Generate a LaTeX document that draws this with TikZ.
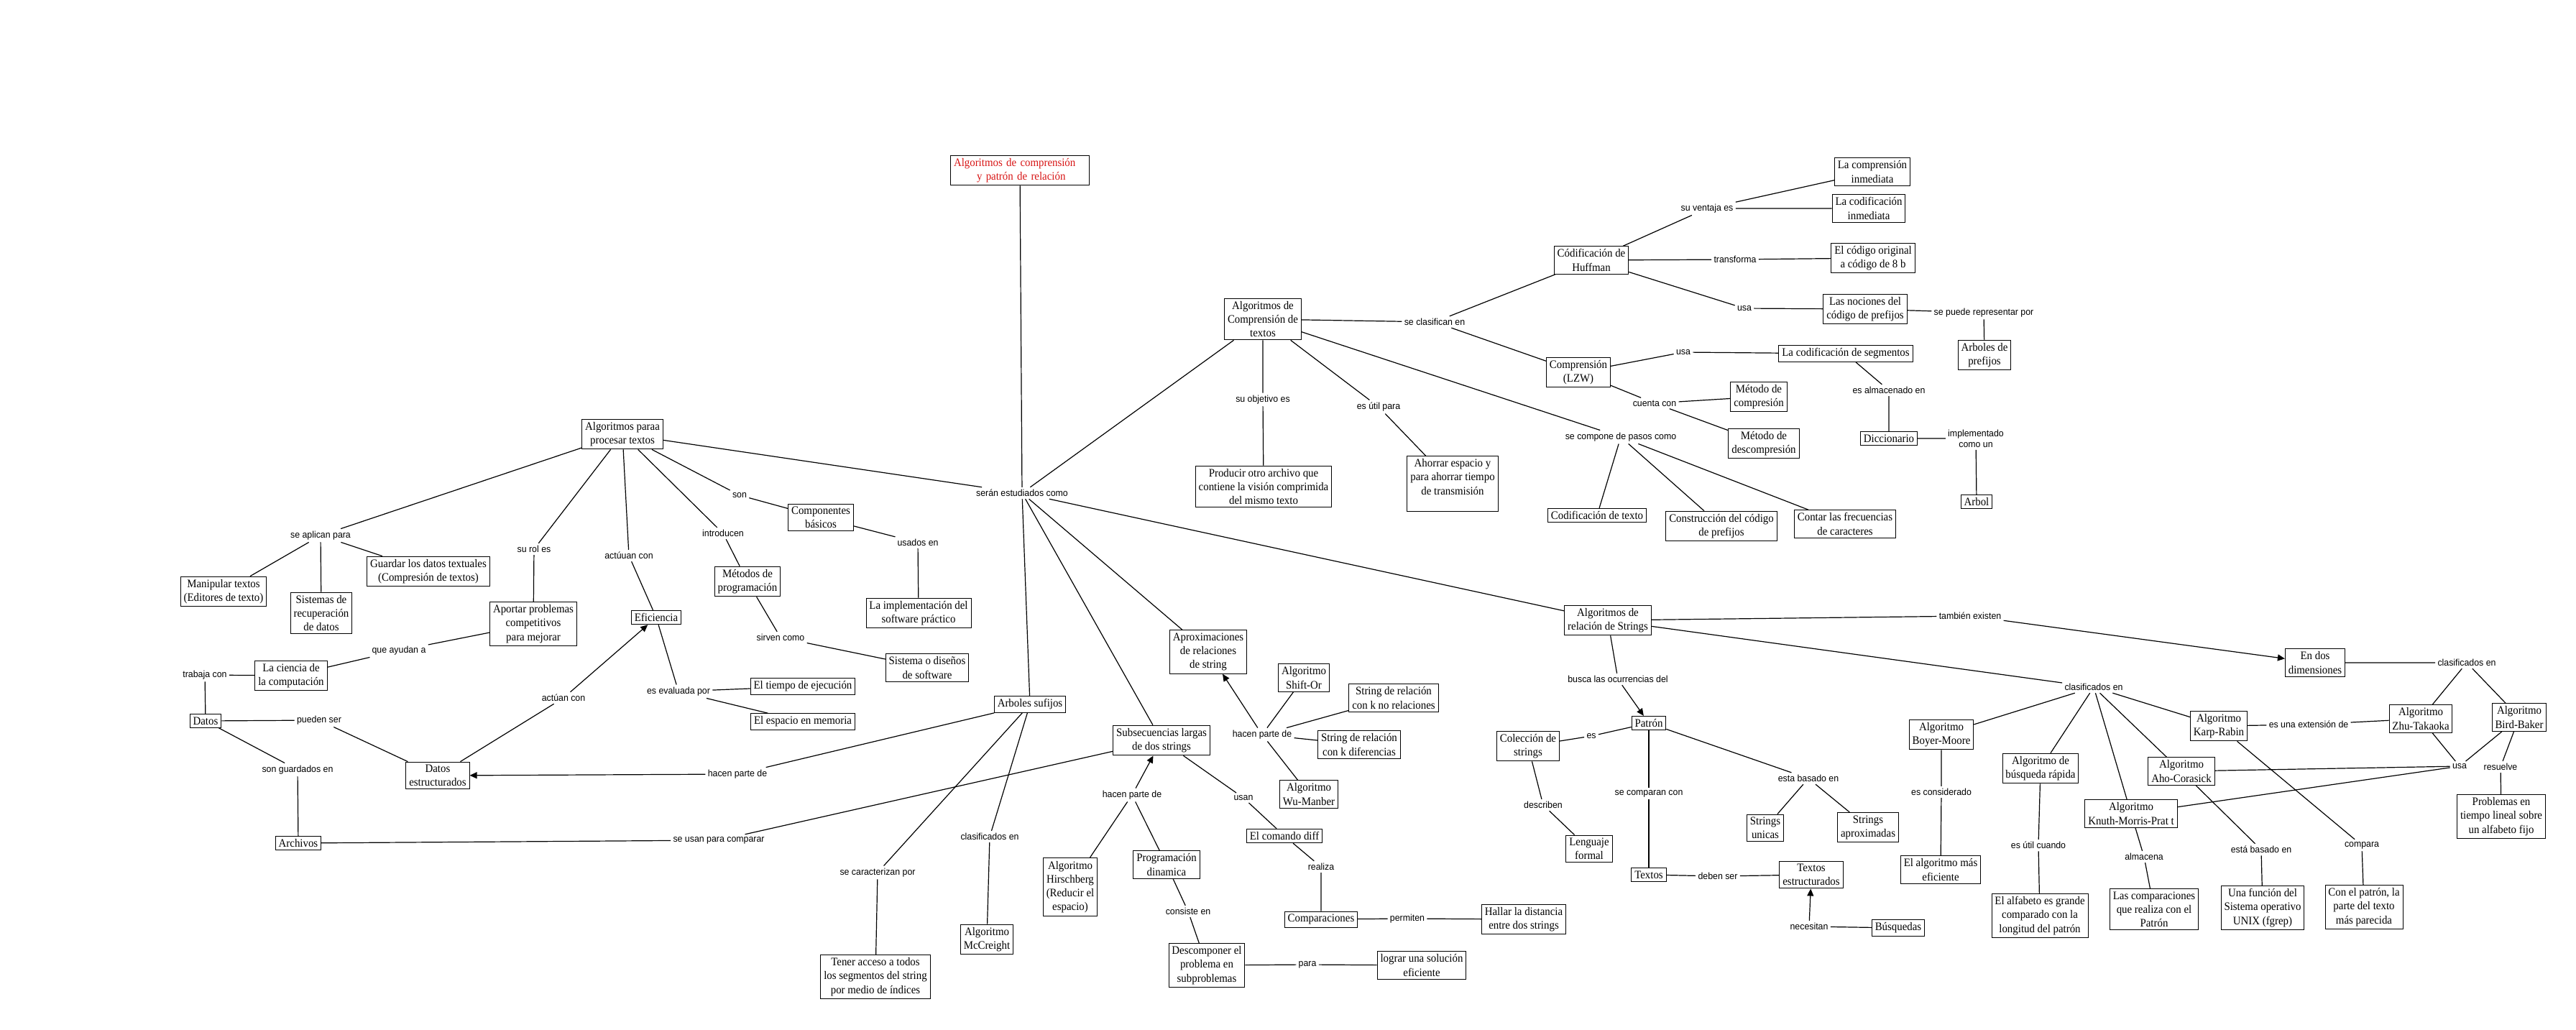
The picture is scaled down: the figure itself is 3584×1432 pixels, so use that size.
\documentclass[tikz,border=0pt]{standalone}
\usepackage{fontspec}
\setmainfont{Liberation Serif}[FakeStretch=0.93]
\newfontfamily\linkfont{Liberation Sans}[FakeStretch=0.95]
\usetikzlibrary{arrows.meta}
\definecolor{rootred}{RGB}{215,20,20}

\begin{document}
\begin{tikzpicture}[x=0.5pt,y=-0.5pt,
  concept/.style={draw,line width=0.5pt,align=center,inner xsep=2.2pt,inner ysep=2pt,font=\fontsize{8}{9.6}\selectfont},
  link/.style={inner sep=1.5pt,align=center,font=\linkfont\fontsize{6.5}{7.6}\selectfont},
  conn/.style={line width=0.6pt},
  arr/.style={conn,-{Triangle[length=5pt,width=4.5pt]}}]
  \useasboundingbox (0,0) rectangle (3584,1432);

  % concepts
  \node[concept,align=left,text width=92pt,text=rootred] (root) at (1419,237) {Algoritmos de comprensión\\\hspace*{16pt}y patrón de relación};
  \node[concept] (proc) at (866,604) {Algoritmos paraa\\procesar textos};
  \node[concept] (manip) at (311,823) {Manipular textos\\(Editores de texto)};
  \node[concept] (sist) at (447,853) {Sistemas de\\recuperación\\de datos};
  \node[concept] (guard) at (596,795) {Guardar los datos textuales\\(Compresión de textos)};
  \node[concept] (aport) at (742,868) {Aportar problemas\\competitivos\\para mejorar};
  \node[concept] (efic) at (913,859) {Eficiencia};
  \node[concept] (metod) at (1040,809) {Métodos de\\programación};
  \node[concept] (compb) at (1142,720) {Componentes\\básicos};
  \node[concept] (impl) at (1278,853) {La implementación del\\software práctico};
  \node[concept] (diseno) at (1290,929) {Sistema o diseños\\de software};
  \node[concept] (tiempo) at (1117,955) {El tiempo de ejecución};
  \node[concept] (espacio) at (1117,1004) {El espacio en memoria};
  \node[concept] (ciencia) at (405,940) {La ciencia de\\la computación};
  \node[concept] (datos) at (286,1003) {Datos};
  \node[concept] (destr) at (609,1079) {Datos\\estructurados};
  \node[concept] (arch) at (415,1173) {Archivos};
  \node[concept] (comp) at (1757,444) {Algoritmos de\\Comprensión de\\textos};
  \node[concept] (prod) at (1758,677) {Producir otro archivo que\\contiene la visión comprimida\\del mismo texto};
  \node[concept] (ahorro) at (2021,673) {Ahorrar espacio y\\para ahorrar tiempo\\de transmisión\\~};
  \node[concept] (aprox) at (1681,907) {Aproximaciones\\de relaciones\\de string};
  \node[concept] (shift) at (1814,943) {Algoritmo\\Shift-Or};
  \node[concept] (knorel) at (1939,971) {String de relación\\con k no relaciones};
  \node[concept] (kdif) at (1891,1036) {String de relación\\con k diferencias};
  \node[concept] (wu) at (1821,1105) {Algoritmo\\Wu-Manber};
  \node[concept] (asuf) at (1433,980) {Arboles sufijos};
  \node[concept] (subsec) at (1616,1030) {Subsecuencias largas\\de dos strings};
  \node[concept] (diff) at (1787,1163) {El comando diff};
  \node[concept] (hirsch) at (1489,1234) {Algoritmo\\Hirschberg\\(Reducir el\\espacio)};
  \node[concept] (progdin) at (1623,1203) {Programación\\dinamica};
  \node[concept] (compar) at (1838,1279) {Comparaciones};
  \node[concept] (mccr) at (1373,1307) {Algoritmo\\McCreight};
  \node[concept] (acceso) at (1218,1359) {Tener acceso a todos\\los segmentos del string\\por medio de índices};
  \node[concept] (descomp) at (1679,1343) {Descomponer el\\problema en\\subproblemas};
  \node[concept] (lograr) at (1978,1343) {lograr una solución\\eficiente};
  \node[concept] (hallar) at (2120,1279) {Hallar la distancia\\entre dos strings};
  \node[concept] (huff) at (2214,362) {Códificación de\\Huffman};
  \node[concept] (cinm) at (2605,239) {La comprensión\\inmediata};
  \node[concept] (codinm) at (2600,290) {La codificación\\inmediata};
  \node[concept] (orig) at (2606,359) {El código original\\a código de 8 b};
  \node[concept] (noc) at (2595,430) {Las nociones del\\código de prefijos};
  \node[concept] (apref) at (2761,494) {Arboles de\\prefijos};
  \node[concept] (lzw) at (2196,518) {Comprensión\\(LZW)};
  \node[concept] (cseg) at (2568,492) {La codificación de segmentos};
  \node[concept] (mcomp) at (2447,552) {Método de\\compresión};
  \node[concept] (mdesc) at (2454,617) {Método de\\descompresión};
  \node[concept] (dicc) at (2628,610) {Diccionario};
  \node[concept] (arbol) at (2750,698) {Arbol};
  \node[concept] (codtxt) at (2222,717) {Codificación de texto};
  \node[concept] (constr) at (2395,732) {Construcción del código\\de prefijos};
  \node[concept] (contar) at (2567,729) {Contar las frecuencias\\de caracteres};
  \node[concept] (rel) at (2237,863) {Algoritmos de\\relación de Strings};
  \node[concept] (patron) at (2294,1006) {Patrón};
  \node[concept] (bm) at (2701,1022) {Algoritmo\\Boyer-Moore};
  \node[concept] (colec) at (2126,1038) {Colección de\\strings};
  \node[concept] (lform) at (2211,1181) {Lenguaje\\formal};
  \node[concept] (sunic) at (2456,1152) {Strings\\unicas};
  \node[concept] (saprox) at (2599,1151) {Strings\\aproximadas};
  \node[concept] (textos) at (2294,1217) {Textos};
  \node[concept] (testr) at (2520,1217) {Textos\\estructurados};
  \node[concept] (busq) at (2641,1291) {Búsquedas};
  \node[concept] (masef) at (2700,1210) {El algoritmo más\\eficiente};
  \node[concept] (dosdim) at (3221,922) {En dos\\dimensiones};
  \node[concept] (kr) at (3087,1010) {Algoritmo\\Karp-Rabin};
  \node[concept] (zhu) at (3368,1000) {Algoritmo\\Zhu-Takaoka};
  \node[concept] (bird) at (3505,998) {Algoritmo\\Bird-Baker};
  \node[concept] (brap) at (2839,1069) {Algoritmo de\\búsqueda rápida};
  \node[concept] (aho) at (3035,1073) {Algoritmo\\Aho-Corasick};
  \node[concept] (kmp) at (2965,1132) {Algoritmo\\Knuth-Morris-Prat t};
  \node[concept] (plin) at (3480,1136) {Problemas en\\tiempo lineal sobre\\un alfabeto fijo};
  \node[concept] (alfa) at (2838,1274) {El alfabeto es grande\\comparado con la\\longitud del patrón};
  \node[concept] (lcomp) at (2997,1265) {Las comparaciones\\que realiza con el\\Patrón};
  \node[concept] (unix) at (3148,1263) {Una función del\\Sistema operativo\\UNIX (fgrep)};
  \node[concept] (conpat) at (3289,1262) {Con el patrón, la\\parte del texto\\más parecida};

  % linking phrases
  \node[link] (lser) at (1422,686) {serán estudiados como};
  \node[link] (laplic) at (446,745) {se aplican para};
  \node[link] (lrol) at (743,764) {su rol es};
  \node[link] (lact) at (875,773) {actúuan con};
  \node[link] (lintro) at (1006,742) {introducen};
  \node[link] (lson) at (1029,689) {son};
  \node[link] (lusados) at (1277,755) {usados en};
  \node[link] (lsirv) at (1086,887) {sirven como};
  \node[link] (leval) at (944,962) {es evaluada por};
  \node[link] (layud) at (555,905) {que ayudan a};
  \node[link] (ltrab) at (285,939) {trabaja con};
  \node[link] (lpued) at (444,1002) {pueden ser};
  \node[link] (lguard) at (414,1071) {son guardados en};
  \node[link] (lact2) at (784,971) {actúan con};
  \node[link] (lhac1) at (1026,1077) {hacen parte de};
  \node[link] (lusan) at (1000,1169) {se usan para comparar};
  \node[link] (lcarac) at (1221,1214) {se caracterizan por};
  \node[link] (lclas1) at (1377,1164) {clasificados en};
  \node[link] (lhac2) at (1575,1106) {hacen parte de};
  \node[link] (lusan2) at (1730,1110) {usan};
  \node[link] (lreal) at (1838,1206) {realiza};
  \node[link] (lperm) at (1958,1278) {permiten};
  \node[link] (lcons) at (1653,1268) {consiste en};
  \node[link] (lpara) at (1819,1342) {para};
  \node[link] (lhac3) at (1756,1022) {hacen parte de};
  \node[link] (lobj) at (1757,556) {su objetivo es};
  \node[link] (lutil) at (1918,566) {es útil para};
  \node[link] (lclasif) at (1996,448) {se clasifican en};
  \node[link] (lcompon) at (2255,608) {se compone de pasos como};
  \node[link] (lvent) at (2375,290) {su ventaja es};
  \node[link] (ltransf) at (2414,361) {transforma};
  \node[link] (lusa1) at (2427,429) {usa};
  \node[link] (lrepr) at (2760,435) {se puede representar por};
  \node[link] (lusa2) at (2342,490) {usa};
  \node[link] (lalmac) at (2628,543) {es almacenado en};
  \node[link] (lcuenta) at (2302,561) {cuenta con};
  \node[link] (limpl) at (2749,610) {implementado\\como un};
  \node[link] (ltamb) at (2741,857) {también existen};
  \node[link] (lbusca) at (2251,945) {busca las ocurrencias del};
  \node[link] (lclas2) at (2913,956) {clasificados en};
  \node[link] (les) at (2214,1024) {es};
  \node[link] (ldescr) at (2147,1120) {describen};
  \node[link] (lcompa) at (2294,1104) {se comparan con};
  \node[link] (lbasad) at (2516,1083) {esta basado en};
  \node[link] (ldeben) at (2390,1219) {deben ser};
  \node[link] (lnec) at (2517,1289) {necesitan};
  \node[link] (lconsid) at (2701,1102) {es considerado};
  \node[link] (lclas3) at (3432,922) {clasificados en};
  \node[link] (lext) at (3212,1008) {es una extensión de};
  \node[link] (lusa3) at (3422,1066) {usa};
  \node[link] (lresu) at (3479,1067) {resuelve};
  \node[link] (lutil2) at (2836,1176) {es útil cuando};
  \node[link] (lalmacena) at (2983,1192) {almacena};
  \node[link] (lbasad2) at (3146,1182) {está basado en};
  \node[link] (lcompara) at (3286,1176) {compara};

  % connectors
  \draw[conn] (root) -- (lser);
  \draw[conn] (lser) -- (proc) (lser) -- (comp) (lser) -- (asuf) (lser) -- (subsec) (lser) -- (aprox) (lser) -- (rel);
  \draw[conn] (proc) -- (laplic) (laplic) -- (manip) (laplic) -- (sist) (laplic) -- (guard);
  \draw[conn] (proc) -- (lrol) (lrol) -- (aport);
  \draw[conn] (proc) -- (lact) (lact) -- (efic);
  \draw[conn] (proc) -- (lintro) (lintro) -- (metod);
  \draw[conn] (proc) -- (lson) (lson) -- (compb);
  \draw[conn] (compb) -- (lusados) (lusados) -- (impl);
  \draw[conn] (metod) -- (lsirv) (lsirv) -- (diseno);
  \draw[conn] (efic) -- (leval) (leval) -- (tiempo) (leval) -- (espacio);
  \draw[conn] (aport) -- (layud) (layud) -- (ciencia);
  \draw[conn] (ciencia) -- (ltrab) (ltrab) -- (datos);
  \draw[conn] (datos) -- (lpued) (lpued) -- (destr);
  \draw[conn] (datos) -- (lguard) (lguard) -- (arch);
  \draw[conn] (destr) -- (lact2);
  \draw[arr] (lact2) -- (efic);
  \draw[conn] (asuf) -- (lhac1);
  \draw[arr] (lhac1) -- (destr);
  \draw[conn] (subsec) -- (lusan) (lusan) -- (arch);
  \draw[conn] (asuf) -- (lcarac) (lcarac) -- (acceso);
  \draw[conn] (asuf) -- (lclas1) (lclas1) -- (mccr);
  \draw[conn] (hirsch) -- (lhac2) (progdin) -- (lhac2);
  \draw[arr] (lhac2) -- (subsec);
  \draw[conn] (subsec) -- (lusan2) (lusan2) -- (diff);
  \draw[conn] (diff) -- (lreal) (lreal) -- (compar);
  \draw[conn] (compar) -- (lperm) (lperm) -- (hallar);
  \draw[conn] (progdin) -- (lcons) (lcons) -- (descomp);
  \draw[conn] (descomp) -- (lpara) (lpara) -- (lograr);
  \draw[conn] (shift) -- (lhac3) (knorel) -- (lhac3) (kdif) -- (lhac3) (wu) -- (lhac3);
  \draw[arr] (lhac3) -- (aprox);
  \draw[conn] (comp) -- (lobj) (lobj) -- (prod);
  \draw[conn] (comp) -- (lutil) (lutil) -- (ahorro);
  \draw[conn] (comp) -- (lclasif) (lclasif) -- (huff) (lclasif) -- (lzw);
  \draw[conn] (comp) -- (lcompon) (lcompon) -- (codtxt) (lcompon) -- (constr) (lcompon) -- (contar);
  \draw[conn] (huff) -- (lvent) (lvent) -- (cinm) (lvent) -- (codinm);
  \draw[conn] (huff) -- (ltransf) (ltransf) -- (orig);
  \draw[conn] (huff) -- (lusa1) (lusa1) -- (noc);
  \draw[conn] (noc) -- (lrepr) (lrepr) -- (apref);
  \draw[conn] (lzw) -- (lusa2) (lusa2) -- (cseg);
  \draw[conn] (cseg) -- (lalmac) (lalmac) -- (dicc);
  \draw[conn] (dicc) -- (limpl) (limpl) -- (arbol);
  \draw[conn] (lzw) -- (lcuenta) (lcuenta) -- (mcomp) (lcuenta) -- (mdesc);
  \draw[conn] (rel) -- (ltamb);
  \draw[arr] (ltamb) -- (dosdim);
  \draw[conn] (rel) -- (lbusca);
  \draw[arr] (lbusca) -- (patron);
  \draw[conn] (rel) -- (lclas2) (lclas2) -- (bm) (lclas2) -- (brap) (lclas2) -- (kmp) (lclas2) -- (aho) (lclas2) -- (kr);
  \draw[conn] (patron) -- (les) (les) -- (colec);
  \draw[conn] (colec) -- (ldescr) (ldescr) -- (lform);
  \draw[conn] (patron) -- (lcompa) (lcompa) -- (textos);
  \draw[conn] (patron) -- (lbasad) (lbasad) -- (sunic) (lbasad) -- (saprox);
  \draw[conn] (textos) -- (ldeben) (ldeben) -- (testr);
  \draw[conn] (busq) -- (lnec);
  \draw[arr] (lnec) -- (testr);
  \draw[conn] (bm) -- (lconsid) (lconsid) -- (masef);
  \draw[conn] (dosdim) -- (lclas3) (lclas3) -- (zhu) (lclas3) -- (bird);
  \draw[conn] (kr) -- (lext) (lext) -- (zhu);
  \draw[conn] (zhu) -- (lusa3) (bird) -- (lusa3) (lusa3) -- (aho) (lusa3) -- (kmp);
  \draw[conn] (bird) -- (lresu) (lresu) -- (plin);
  \draw[conn] (brap) -- (lutil2) (lutil2) -- (alfa);
  \draw[conn] (kmp) -- (lalmacena) (lalmacena) -- (lcomp);
  \draw[conn] (aho) -- (lbasad2) (lbasad2) -- (unix);
  \draw[conn] (kr) -- (lcompara) (lcompara) -- (conpat);
\end{tikzpicture}
\end{document}
